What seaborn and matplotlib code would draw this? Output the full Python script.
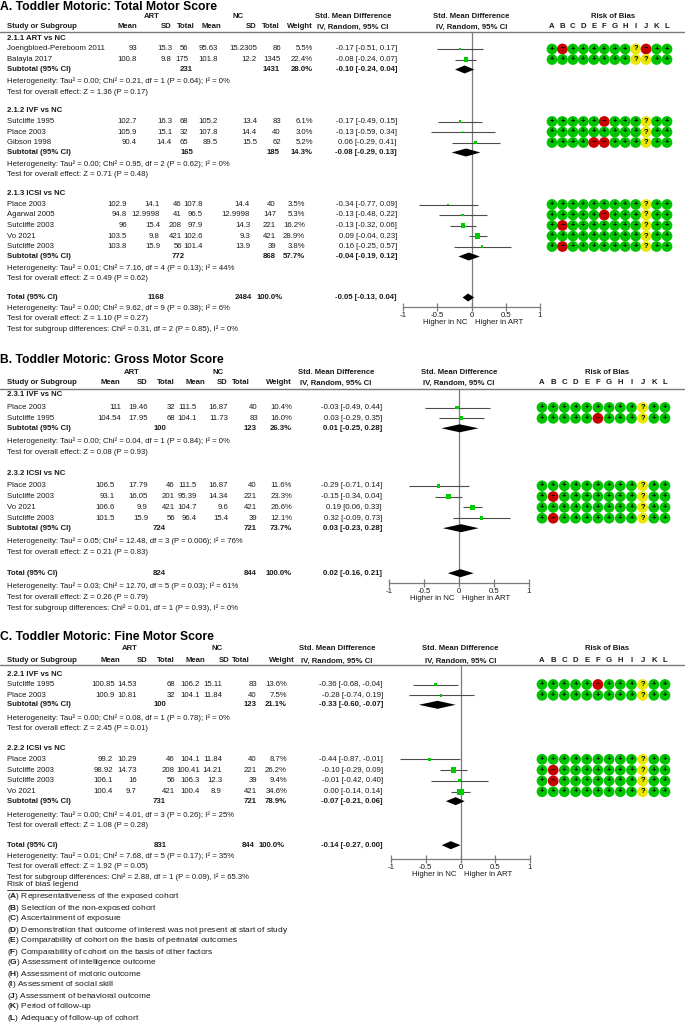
import numpy as np
import pandas as pd
import seaborn as sns
import matplotlib.pyplot as plt

# ---------------- A. Total motor score ----------------
a_groups = ["2.1.1 ART vs NC", "2.1.2 IVF vs NC", "2.1.3 ICSI vs NC"]
a_study = ["Joengbloed-Pereboom 2011", "Balayla 2017",
           "Sutcliffe 1995", "Place 2003", "Gibson 1998",
           "Place 2003", "Agarwal 2005", "Sutcliffe 2003", "Vo 2021", "Sutcliffe 2003"]
a_grp = [0, 0, 1, 1, 1, 2, 2, 2, 2, 2]
a_art_mean = ["93", "100.8", "102.7", "105.9", "90.4", "102.9", "94.8", "96", "103.5", "103.8"]
a_art_sd = ["15.3", "9.8", "16.3", "15.1", "14.4", "14.1", "12.9998", "15.4", "9.8", "15.9"]
a_art_n = [56, 175, 68, 32, 65, 46, 41, 208, 421, 56]
a_nc_mean = ["95.63", "101.8", "105.2", "107.8", "89.5", "107.8", "96.5", "97.9", "102.6", "101.4"]
a_nc_sd = ["15.2305", "12.2", "13.4", "14.4", "15.5", "14.4", "12.9998", "14.3", "9.3", "13.9"]
a_nc_n = [86, 1345, 83, 40, 62, 40, 147, 221, 421, 39]
a_weight = [5.5, 22.4, 6.1, 3.0, 5.2, 3.5, 5.3, 16.2, 28.9, 3.8]
a_smd = [-0.17, -0.08, -0.17, -0.13, 0.06, -0.34, -0.13, -0.13, 0.09, 0.16]
a_lo = [-0.51, -0.24, -0.49, -0.59, -0.29, -0.77, -0.48, -0.32, -0.04, -0.25]
a_hi = [0.17, 0.07, 0.15, 0.34, 0.41, 0.09, 0.22, 0.06, 0.23, 0.57]
a_rob = ["+-++++++?-++", "++++++++??++",
         "+++++-+++?++", "+++++++++?++", "++++--+++?++",
         "+++++++++?++", "+++++-+++?++", "+-+++++++?++", "+++++++++?++", "+-+++++++?++"]
a_sub_art_n = [231, 165, 772]
a_sub_nc_n = [1431, 185, 868]
a_sub_weight = [28.0, 14.3, 57.7]
a_sub_smd = [-0.10, -0.08, -0.04]
a_sub_lo = [-0.24, -0.29, -0.19]
a_sub_hi = [0.04, 0.13, 0.12]
a_sub_het = ["Heterogeneity: Tau² = 0.00; Chi² = 0.21, df = 1 (P = 0.64); I² = 0%",
             "Heterogeneity: Tau² = 0.00; Chi² = 0.95, df = 2 (P = 0.62); I² = 0%",
             "Heterogeneity: Tau² = 0.01; Chi² = 7.16, df = 4 (P = 0.13); I² = 44%"]
a_sub_z = ["Test for overall effect: Z = 1.36 (P = 0.17)",
           "Test for overall effect: Z = 0.71 (P = 0.48)",
           "Test for overall effect: Z = 0.49 (P = 0.62)"]
a_tot_n = [1168, 2484]
a_tot_est = [-0.05, -0.13, 0.04]
a_tot_notes = ["Heterogeneity: Tau² = 0.00; Chi² = 9.62, df = 9 (P = 0.38); I² = 6%",
               "Test for overall effect: Z = 1.10 (P = 0.27)",
               "Test for subgroup differences: Chi² = 0.31, df = 2 (P = 0.85), I² = 0%"]

# ---------------- B. Gross motor score ----------------
b_groups = ["2.3.1 IVF vs NC", "2.3.2 ICSI vs NC"]
b_study = ["Place 2003", "Sutcliffe 1995", "Place 2003", "Sutcliffe 2003", "Vo 2021", "Sutcliffe 2003"]
b_grp = [0, 0, 1, 1, 1, 1]
b_art_mean = ["111", "104.54", "106.5", "93.1", "106.6", "101.5"]
b_art_sd = ["19.46", "17.95", "17.79", "16.05", "9.9", "15.9"]
b_art_n = [32, 68, 46, 201, 421, 56]
b_nc_mean = ["111.5", "104.1", "111.5", "95.39", "104.7", "96.4"]
b_nc_sd = ["16.87", "11.73", "16.87", "14.34", "9.6", "15.4"]
b_nc_n = [40, 83, 40, 221, 421, 39]
b_weight = [10.4, 16.0, 11.6, 23.3, 26.6, 12.1]
b_smd = [-0.03, 0.03, -0.29, -0.15, 0.19, 0.32]
b_lo = [-0.49, -0.29, -0.71, -0.34, 0.06, -0.09]
b_hi = [0.44, 0.35, 0.14, 0.04, 0.33, 0.73]
b_rob = ["+++++++++?++", "+++++-+++?++",
         "+++++++++?++", "+-+++++++?++", "+++++++++?++", "+-+++++++?++"]
b_sub_art_n = [100, 724]
b_sub_nc_n = [123, 721]
b_sub_weight = [26.3, 73.7]
b_sub_smd = [0.01, 0.03]
b_sub_lo = [-0.25, -0.23]
b_sub_hi = [0.28, 0.28]
b_sub_het = ["Heterogeneity: Tau² = 0.00; Chi² = 0.04, df = 1 (P = 0.84); I² = 0%",
             "Heterogeneity: Tau² = 0.05; Chi² = 12.48, df = 3 (P = 0.006); I² = 76%"]
b_sub_z = ["Test for overall effect: Z = 0.08 (P = 0.93)",
           "Test for overall effect: Z = 0.21 (P = 0.83)"]
b_tot_n = [824, 844]
b_tot_est = [0.02, -0.16, 0.21]
b_tot_notes = ["Heterogeneity: Tau² = 0.03; Chi² = 12.70, df = 5 (P = 0.03); I² = 61%",
               "Test for overall effect: Z = 0.26 (P = 0.79)",
               "Test for subgroup differences: Chi² = 0.01, df = 1 (P = 0.93), I² = 0%"]

# ---------------- C. Fine motor score ----------------
c_groups = ["2.2.1 IVF vs NC", "2.2.2 ICSI vs NC"]
c_study = ["Sutcliffe 1995", "Place 2003", "Place 2003", "Sutcliffe 2003", "Sutcliffe 2003", "Vo 2021"]
c_grp = [0, 0, 1, 1, 1, 1]
c_art_mean = ["100.85", "100.9", "99.2", "98.92", "106.1", "100.4"]
c_art_sd = ["14.53", "10.81", "10.29", "14.73", "16", "9.7"]
c_art_n = [68, 32, 46, 208, 56, 421]
c_nc_mean = ["106.2", "104.1", "104.1", "100.41", "106.3", "100.4"]
c_nc_sd = ["15.11", "11.84", "11.84", "14.21", "12.3", "8.9"]
c_nc_n = [83, 40, 40, 221, 39, 421]
c_weight = [13.6, 7.5, 8.7, 26.2, 9.4, 34.6]
c_smd = [-0.36, -0.28, -0.44, -0.10, -0.01, 0.00]
c_lo = [-0.68, -0.74, -0.87, -0.29, -0.42, -0.14]
c_hi = [-0.04, 0.19, -0.01, 0.09, 0.40, 0.14]
c_rob = ["+++++-+++?++", "+++++++++?++",
         "+++++++++?++", "+-+++++++?++", "+-+++++++?++", "+++++++++?++"]
c_sub_art_n = [100, 731]
c_sub_nc_n = [123, 721]
c_sub_weight = [21.1, 78.9]
c_sub_smd = [-0.33, -0.07]
c_sub_lo = [-0.60, -0.21]
c_sub_hi = [-0.07, 0.06]
c_sub_het = ["Heterogeneity: Tau² = 0.00; Chi² = 0.08, df = 1 (P = 0.78); I² = 0%",
             "Heterogeneity: Tau² = 0.00; Chi² = 4.01, df = 3 (P = 0.26); I² = 25%"]
c_sub_z = ["Test for overall effect: Z = 2.45 (P = 0.01)",
           "Test for overall effect: Z = 1.08 (P = 0.28)"]
c_tot_n = [831, 844]
c_tot_est = [-0.14, -0.27, 0.00]
c_tot_notes = ["Heterogeneity: Tau² = 0.01; Chi² = 7.68, df = 5 (P = 0.17); I² = 35%",
               "Test for overall effect: Z = 1.92 (P = 0.05)",
               "Test for subgroup differences: Chi² = 2.88, df = 1 (P = 0.09), I² = 65.3%"]

rob_letters = list("ABCDEFGHIJKL")
rob_legend = ["Representativeness of the exposed cohort",
              "Selection of the non-exposed cohort",
              "Ascertainment of exposure",
              "Demonstration that outcome of interest was not present at start of study",
              "Comparability of cohort on the basis of perinatal outcomes",
              "Comparability of cohort on the basis of other factors",
              "Assessment of intelligence outcome",
              "Assessment of motoric outcome",
              "Assessment of social skill",
              "Assessment of behavioral outcome",
              "Period of follow-up",
              "Adequacy of follow-up of cohort"]
tick_vals = [-1, -0.5, 0, 0.5, 1]
tick_labels = ["-1", "-0.5", "0", "0.5", "1"]


def make_section(p, title):
    g = globals()
    keys = ["groups", "study", "grp", "art_mean", "art_sd", "art_n", "nc_mean", "nc_sd", "nc_n",
            "weight", "smd", "lo", "hi", "rob", "sub_art_n", "sub_nc_n", "sub_weight", "sub_smd",
            "sub_lo", "sub_hi", "sub_het", "sub_z", "tot_n", "tot_est", "tot_notes"]
    sec = {k: g[p + "_" + k] for k in keys}
    sec["title"] = title
    return sec


sections = [make_section("a", "A. Toddler Motoric: Total Motor Score"),
            make_section("b", "B. Toddler Motoric: Gross Motor Score"),
            make_section("c", "C. Toddler Motoric: Fine Motor Score")]

# layout (pixels)
layouts = [
    dict(title_y=7, grp_y=16, head_y=27, line_y=32, start=38,
         st=dict(lab=11, row=10.5, sub=10, het=12, test=10.5, gap=18.5, thet=11, ttest=10, tsub=10.5),
         head_x=[137, 172, 195, 221, 257, 280, 313],
         cols=[[137, 172, 188, 218, 257, 281, 313], [137, 172, 188, 218, 257, 281, 313],
               [127, 160, 182, 203, 250, 276, 305]],
         sub_cols=[[193, 280, 313], [193, 280, 313], [185, 276, 305]],
         tot_cols=[164, 252, 283],
         art_c=152, nc_c=238, smd_x=397, smd_c=353, f_lo=403, f_hi=540, axis_y=307,
         rob_lo=552, rob_hi=667, rob_c=613),
    dict(title_y=360, grp_y=372, head_y=383, line_y=389, start=395,
         st=dict(lab=12.5, row=10.8, sub=10, het=13, test=11, gap=21, thet=13, ttest=11, tsub=10.5),
         head_x=[120, 148, 175, 205, 228, 250, 292],
         cols=[[121, 148, 175, 197, 228, 258, 292], [115, 148, 175, 197, 228, 257, 292]],
         sub_cols=[[166, 257, 292], [166, 257, 292]],
         tot_cols=[166, 257, 292],
         art_c=132, nc_c=218, smd_x=382, smd_c=336, f_lo=389, f_hi=529, axis_y=583,
         rob_lo=542, rob_hi=665, rob_c=607),
    dict(title_y=637, grp_y=649, head_y=661, line_y=665, start=674,
         st=dict(lab=10.5, row=10.8, sub=9.5, het=13.5, test=10.5, gap=20, thet=10.5, ttest=10.5, tsub=10.5),
         head_x=[120, 148, 175, 205, 230, 250, 295],
         cols=[[115, 137, 175, 200, 222, 257, 287], [113, 137, 175, 200, 222, 257, 287]],
         sub_cols=[[166, 257, 287], [166, 257, 287]],
         tot_cols=[167, 255, 285],
         art_c=130, nc_c=217, smd_x=383, smd_c=337, f_lo=391, f_hi=530, axis_y=859,
         rob_lo=542, rob_hi=665, rob_c=607),
]

W, H = 685, 1033
FS = 5.55
LEG_FS = 6.0
TITLE_FS = 8.7
INK = "#1a1a1a"
GRAY = "#7a7a7a"
CI_COL = "#4d4d4d"
SQ_COL = "#00cc00"
ROB_COL = {"+": "#00c400", "-": "#c80000", "?": "#e8e800"}
ROB_SYM = {"+": "+", "-": "\u2212", "?": "?"}

sns.set_theme(style="white")
plt.rcParams["font.family"] = ["Liberation Sans", "DejaVu Sans"]
plt.rcParams["mathtext.fontset"] = "custom"
plt.rcParams["mathtext.rm"] = "Liberation Sans"
plt.rcParams["mathtext.bf"] = "Liberation Sans:bold"

fig = plt.figure(figsize=(W / 100, H / 100), dpi=100)
bg = fig.add_axes([0, 0, 1, 1])


def txt(x, y, s, ha="left", bold=False, size=FS, color=INK):
    return bg.text(x, y, s, ha=ha, va="center", fontsize=size, color=color,
                   fontweight="bold" if bold else "normal")


def ci_str(e, lo, hi):
    return f"{e:.2f} [{lo:.2f}, {hi:.2f}]"


def draw_section(sec, lay):
    st = lay["st"]
    zero_px = (lay["f_lo"] + lay["f_hi"]) / 2
    # headers
    txt(0, lay["title_y"], sec["title"], bold=True, size=TITLE_FS, color="black")
    txt(lay["art_c"], lay["grp_y"], "ART", ha="center", bold=True)
    txt(lay["nc_c"], lay["grp_y"], "NC", ha="center", bold=True)
    for cx in (lay["smd_c"], zero_px):
        txt(cx, lay["grp_y"], "Std. Mean Difference", ha="center", bold=True)
        txt(cx, lay["head_y"], "IV, Random, 95% CI", ha="center", bold=True)
    txt(lay["rob_c"], lay["grp_y"], "Risk of Bias", ha="center", bold=True)
    rx = np.linspace(lay["rob_lo"], lay["rob_hi"], len(rob_letters))
    for x, l in zip(rx, rob_letters):
        txt(x, lay["head_y"], l, ha="center", bold=True)
    txt(7, lay["head_y"], "Study or Subgroup", bold=True)
    for name, x in zip(["Mean", "SD", "Total", "Mean", "SD", "Total", "Weight"], lay["head_x"]):
        txt(x, lay["head_y"], name, ha="right", bold=True)
    bg.plot([0, W], [lay["line_y"]] * 2, color=GRAY, lw=1.0)

    # table rows
    y = lay["start"]
    sy = np.zeros(len(sec["study"]))
    sub_y = []
    for g, label in enumerate(sec["groups"]):
        txt(7, y, label, bold=True)
        y += st["lab"]
        idx = [i for i, gg in enumerate(sec["grp"]) if gg == g]
        for k, i in enumerate(idx):
            if k:
                y += st["row"]
            sy[i] = y
            txt(7, y, sec["study"][i])
            vals = [sec["art_mean"][i], sec["art_sd"][i], str(sec["art_n"][i]),
                    sec["nc_mean"][i], sec["nc_sd"][i], str(sec["nc_n"][i]),
                    f"{sec['weight'][i]:.1f}%"]
            for v, x in zip(vals, lay["cols"][g]):
                txt(x, y, v, ha="right")
            txt(lay["smd_x"], y, ci_str(sec["smd"][i], sec["lo"][i], sec["hi"][i]), ha="right")
        y += st["sub"]
        sub_y.append(y)
        txt(7, y, "Subtotal (95% CI)", bold=True)
        sc = lay["sub_cols"][g]
        txt(sc[0], y, str(sec["sub_art_n"][g]), ha="right", bold=True)
        txt(sc[1], y, str(sec["sub_nc_n"][g]), ha="right", bold=True)
        txt(sc[2], y, f"{sec['sub_weight'][g]:.1f}%", ha="right", bold=True)
        txt(lay["smd_x"], y, ci_str(sec["sub_smd"][g], sec["sub_lo"][g], sec["sub_hi"][g]),
            ha="right", bold=True)
        y += st["het"]
        txt(7, y, sec["sub_het"][g])
        y += st["test"]
        txt(7, y, sec["sub_z"][g])
        y += st["gap"]
    tot_y = y
    tc = lay["tot_cols"]
    txt(7, y, "Total (95% CI)", bold=True)
    txt(tc[0], y, str(sec["tot_n"][0]), ha="right", bold=True)
    txt(tc[1], y, str(sec["tot_n"][1]), ha="right", bold=True)
    txt(tc[2], y, "100.0%", ha="right", bold=True)
    txt(lay["smd_x"], y, ci_str(*sec["tot_est"]), ha="right", bold=True)
    for note, step in zip(sec["tot_notes"], [st["thet"], st["ttest"], st["tsub"]]):
        y += step
        txt(7, y, note)

    # risk of bias circles
    cells = pd.DataFrame([dict(x=rx[j], y=sy[i], judge=r[j])
                          for i, r in enumerate(sec["rob"]) for j in range(len(r))])
    sns.scatterplot(data=cells, x="x", y="y", hue="judge", palette=ROB_COL, s=60,
                    linewidth=0, legend=False, ax=bg, zorder=3)
    for _, c in cells.iterrows():
        bg.text(c["x"], c["y"], ROB_SYM[c["judge"]], ha="center", va="center",
                fontsize=5.4, fontweight="bold", color="black", zorder=4)

    # forest plot axes
    fx = fig.add_axes([lay["f_lo"] / W, 0, (lay["f_hi"] - lay["f_lo"]) / W, 1])
    fx.patch.set_alpha(0)
    fx.hlines(sy, sec["lo"], sec["hi"], color=CI_COL, lw=0.8, zorder=2)
    sq = pd.DataFrame({"smd": sec["smd"], "y": sy, "w": sec["weight"]})
    sns.scatterplot(data=sq, x="smd", y="y", marker="s", color=SQ_COL,
                    s=0.55 * sq["w"].to_numpy(), linewidth=0, legend=False, ax=fx, zorder=3)
    for e, lo, hi, yy in zip(sec["sub_smd"] + [sec["tot_est"][0]],
                             sec["sub_lo"] + [sec["tot_est"][1]],
                             sec["sub_hi"] + [sec["tot_est"][2]],
                             sub_y + [tot_y]):
        fx.fill([lo, e, hi, e], [yy, yy - 4, yy, yy + 4], color="black", lw=0, zorder=3)
    fx.vlines(0, lay["line_y"], lay["axis_y"], color=GRAY, lw=0.9, zorder=1)
    fx.set_xlim(-1, 1)
    fx.set_ylim(H, 0)
    fx.set_xlabel("")
    fx.set_ylabel("")
    for s in ["top", "left", "right"]:
        fx.spines[s].set_visible(False)
    fx.spines["bottom"].set_position(("data", lay["axis_y"]))
    fx.spines["bottom"].set_bounds(-1, 1)
    fx.spines["bottom"].set_color(GRAY)
    fx.spines["bottom"].set_linewidth(0.9)
    fx.set_yticks([])
    fx.set_xticks(tick_vals)
    fx.set_xticklabels(tick_labels)
    fx.tick_params(axis="x", bottom=True, direction="inout", length=6, width=0.9,
                   color=GRAY, labelsize=FS, labelcolor=INK, pad=0.5)
    fx.grid(False)
    fx.text(-0.06, lay["axis_y"] + 16, "Higher in NC", ha="right", va="center",
            fontsize=FS, color=INK)
    fx.text(0.05, lay["axis_y"] + 16, "Higher in ART", ha="left", va="center",
            fontsize=FS, color=INK)


for sec, lay in zip(sections, layouts):
    draw_section(sec, lay)

# risk of bias legend
leg_title = txt(7, 885, "Risk of bias legend", size=LEG_FS)
for k, (l, d) in enumerate(zip(rob_letters, rob_legend)):
    txt(7, 897 + k * 11, rf"($\mathbf{{{l}}}$) {d}", size=LEG_FS)

bg.set_xlim(0, W)
bg.set_ylim(H, 0)
bg.axis("off")

fig.canvas.draw()
bb = leg_title.get_window_extent().transformed(bg.transData.inverted())
bg.plot([bb.x0, bb.x1 + 2], [889.5, 889.5], color=INK, lw=0.6)
bg.set_xlim(0, W)
bg.set_ylim(H, 0)

fig.savefig("out.png", dpi=100)
